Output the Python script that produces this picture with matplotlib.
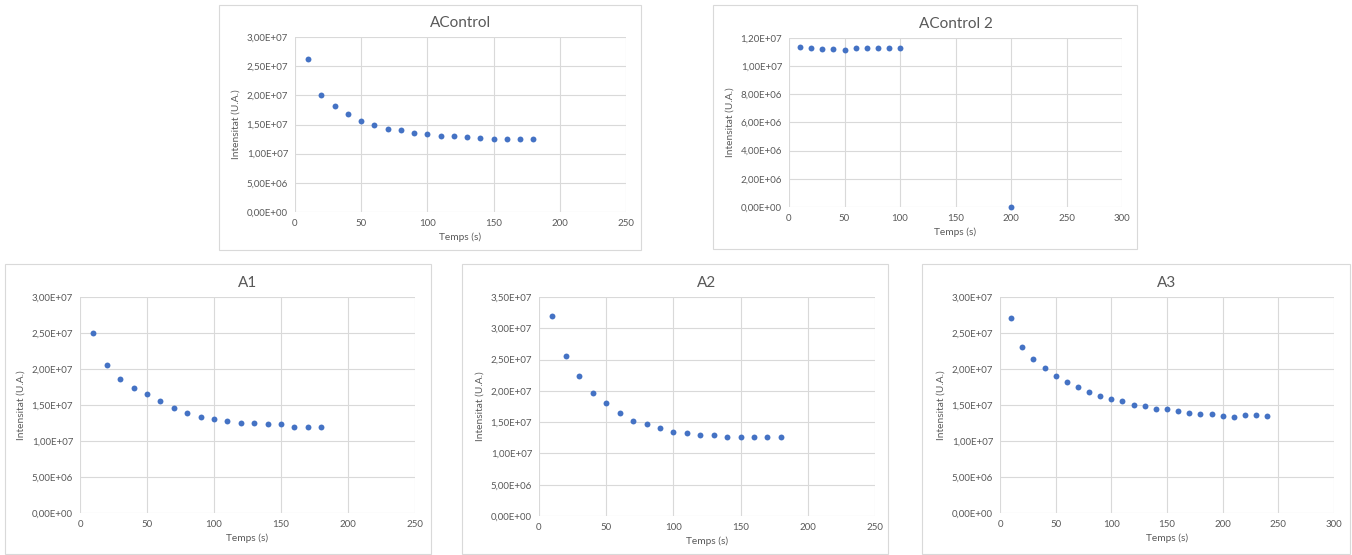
import matplotlib
matplotlib.use('agg')

import matplotlib.pyplot as plt
from matplotlib.patches import Rectangle
from matplotlib.ticker import FuncFormatter, MultipleLocator

plt.rcParams['font.family'] = ['Lato', 'DejaVu Sans']

# data (intensities)
t_ctrl = [10, 20, 30, 40, 50, 60, 70, 80, 90, 100, 110, 120, 130, 140, 150, 160, 170, 180]
i_ctrl = [2.63e7, 2.01e7, 1.81e7, 1.68e7, 1.56e7, 1.50e7, 1.43e7, 1.40e7, 1.35e7, 1.34e7,
          1.31e7, 1.31e7, 1.29e7, 1.27e7, 1.26e7, 1.26e7, 1.25e7, 1.25e7]

t_ctrl2 = [10, 20, 30, 40, 50, 60, 70, 80, 90, 100, 200]
i_ctrl2 = [1.136e7, 1.126e7, 1.122e7, 1.122e7, 1.117e7, 1.131e7, 1.126e7, 1.126e7, 1.131e7,
           1.126e7, 0.0]

t_a1 = [10, 20, 30, 40, 50, 60, 70, 80, 90, 100, 110, 120, 130, 140, 150, 160, 170, 180]
i_a1 = [2.50e7, 2.06e7, 1.86e7, 1.74e7, 1.65e7, 1.55e7, 1.46e7, 1.39e7, 1.33e7, 1.31e7,
        1.28e7, 1.25e7, 1.25e7, 1.24e7, 1.23e7, 1.20e7, 1.19e7, 1.19e7]

t_a2 = [10, 20, 30, 40, 50, 60, 70, 80, 90, 100, 110, 120, 130, 140, 150, 160, 170, 180]
i_a2 = [3.20e7, 2.55e7, 2.24e7, 1.97e7, 1.80e7, 1.65e7, 1.52e7, 1.47e7, 1.41e7, 1.35e7,
        1.32e7, 1.29e7, 1.29e7, 1.27e7, 1.26e7, 1.26e7, 1.26e7, 1.27e7]

t_a3 = [10, 20, 30, 40, 50, 60, 70, 80, 90, 100, 110, 120, 130, 140, 150, 160, 170, 180,
        190, 200, 210, 220, 230, 240]
i_a3 = [2.71e7, 2.31e7, 2.14e7, 2.01e7, 1.90e7, 1.82e7, 1.75e7, 1.68e7, 1.63e7, 1.59e7,
        1.55e7, 1.50e7, 1.48e7, 1.45e7, 1.44e7, 1.41e7, 1.39e7, 1.37e7, 1.37e7, 1.35e7,
        1.34e7, 1.36e7, 1.36e7, 1.35e7]

W, H = 1352, 555
fig = plt.figure(figsize=(W / 100, H / 100), dpi=100)

TXT = '#595959'
GRID = '#d9d9d9'
BLUE = '#4472C4'

fmt = FuncFormatter(lambda v, p: f"{v:.2E}".replace('.', ','))


def panel(box, area, x, y, title, xmax, ymax, ystep):
    # chart border
    bx0, by0, bx1, by1 = box
    fig.patches.append(Rectangle((bx0 / W, 1 - by1 / H), (bx1 - bx0) / W, (by1 - by0) / H,
                                 transform=fig.transFigure, fill=False, ec=GRID, lw=0.8))
    x0, y0, x1, y1 = area
    ax = fig.add_axes([x0 / W, 1 - y1 / H, (x1 - x0) / W, (y1 - y0) / H])
    ax.scatter(x, y, s=18, color=BLUE, zorder=3, linewidths=0, clip_on=False)
    ax.set_xlim(0, xmax)
    ax.set_ylim(0, ymax)
    ax.xaxis.set_major_locator(MultipleLocator(50))
    ax.yaxis.set_major_locator(MultipleLocator(ystep))
    ax.yaxis.set_major_formatter(fmt)
    ax.grid(True, color=GRID, lw=0.8)
    ax.set_axisbelow(True)
    for s in ax.spines.values():
        s.set_visible(False)
    ax.tick_params(length=0, labelsize=7, colors=TXT, pad=5)
    ax.set_title(title, fontsize=11, color=TXT, pad=7)
    ax.set_xlabel('Temps (s)', fontsize=7.3, color=TXT, labelpad=3)
    ax.set_ylabel('Intensitat (U.A.)', fontsize=7.3, color=TXT, labelpad=4)
    return ax


panel((219, 5, 641, 250), (295, 37, 626, 212), t_ctrl, i_ctrl, 'AControl', 250, 3e7, 5e6)
panel((713, 5, 1137, 249), (789, 38, 1122, 207), t_ctrl2, i_ctrl2, 'AControl 2', 300, 1.2e7, 2e6)
panel((5, 264, 431, 554), (80, 297, 415, 513), t_a1, i_a1, 'A1', 250, 3e7, 5e6)
panel((462, 264, 888, 554), (539, 297, 875, 516), t_a2, i_a2, 'A2', 250, 3.5e7, 5e6)
panel((922, 264, 1350, 554), (1000, 297, 1334, 513), t_a3, i_a3, 'A3', 300, 3e7, 5e6)

fig.savefig('out.png', dpi=100)
